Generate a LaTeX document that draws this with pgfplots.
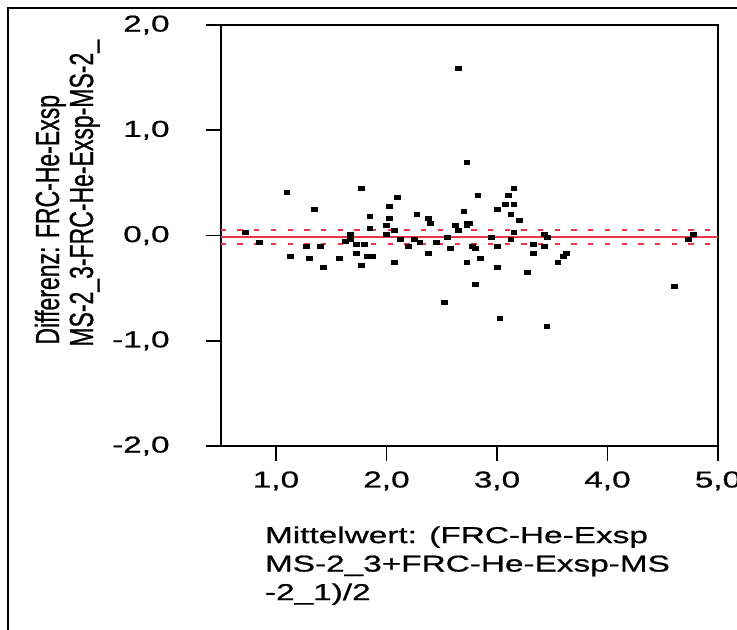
\documentclass[border=0pt]{standalone}
\usepackage{pgfplots}
\pgfplotsset{compat=1.18}
\usepackage{fontspec}
\setmainfont[FakeStretch=1.45,FakeBold=0.8]{Liberation Sans}
\newfontfamily\ylabfont[FakeBold=0.8]{Liberation Sans}
\definecolor{refred}{RGB}{235,52,75}

\begin{document}
\begin{tikzpicture}[x=1pt,y=1pt,font=\fontsize{11.5}{14.25}\selectfont]
\useasboundingbox (0,0) rectangle (368.5,314.5);
\clip (0,0) rectangle (368.5,314.5);
% outer chart frame, cut by the picture edge
\draw[line width=1pt] (4,-5) -- (4,310.5) -- (380,310.5);
\begin{axis}[
  at={(110.35pt,91.5pt)}, anchor=south west,
  scale only axis, width=248.65pt, height=210.5pt,
  xmin=0.5, xmax=5, ymin=-2, ymax=2,
  xtick={1,2,3,4,5}, xticklabels={1{,}0,2{,}0,3{,}0,4{,}0,5{,}0},
  ytick={-2,-1,0,1,2}, yticklabels={-2{,}0,-1{,}0,0{,}0,1{,}0,2{,}0},
  xtick pos=bottom, ytick pos=left, tick align=outside,
  major tick length=7.5pt,
  axis line style={line width=0.8pt},
  tick style={line width=0.8pt, black},
  xticklabel style={inner sep=0pt, anchor=north},
  yticklabel style={inner sep=0pt, anchor=east},
  xticklabel shift=5pt, yticklabel shift=17.85pt,
  xlabel={Mittelwert: (FRC-He-Exsp\\MS-2\_3+FRC-He-Exsp-MS\\-2\_1)/2},
  xlabel style={at={(axis description cs:0.0883,-0.19)}, anchor=north west, align=left, inner sep=0pt},
  clip=false,
]
\addplot[refred, line width=1pt] coordinates {(0.5,-0.012) (5,-0.012)};
\addplot[refred, line width=1pt, dash pattern=on 2.65pt off 5.7pt] coordinates {(0.5,0.055) (5,0.055)};
\addplot[refred, line width=1pt, dash pattern=on 2.65pt off 5.7pt] coordinates {(0.5,-0.08) (5,-0.08)};
\addplot[only marks, mark=square*, mark size=1pt, black,
  mark options={xscale=1.45, line width=0.3pt}] coordinates {
(1.099,0.406) (1.775,0.449) (1.350,0.250) (2.024,0.273) (1.850,0.183)
(2.024,0.162) (1.850,0.073) (2.001,0.095) (0.726,0.029) (2.001,0.007)
(2.071,0.050) (1.675,0.007) (1.675,-0.038) (1.626,-0.059) (0.849,-0.060)
(1.726,-0.083) (1.802,-0.083) (1.276,-0.105) (1.401,-0.105) (1.726,-0.171)
(1.825,-0.193) (1.874,-0.193) (1.127,-0.193) (1.301,-0.216) (1.576,-0.216)
(2.073,-0.259) (1.775,-0.282) (1.425,-0.304)
(2.099,0.361) (2.124,-0.038) (2.200,-0.105) (2.250,-0.038) (2.275,0.206)
(2.302,-0.060) (2.376,0.162) (2.399,0.117) (2.376,-0.171) (2.451,-0.060)
(2.525,-0.639) (2.551,-0.014) (2.576,-0.126) (2.626,0.095) (2.650,0.050)
(2.700,0.228) (2.727,0.117) (2.751,0.117) (2.727,0.095) (2.727,-0.259)
(2.727,0.696) (2.652,1.584)
(2.826,0.385) (2.775,-0.105) (2.801,-0.126) (2.851,-0.216) (2.801,-0.459)
(2.950,-0.014) (3.001,0.250) (3.001,-0.105) (3.001,-0.304) (3.025,-0.791)
(3.077,0.295) (3.100,0.385) (3.152,0.449) (3.152,0.295) (3.125,0.206)
(3.202,0.141) (3.152,0.029) (3.125,-0.038) (3.276,-0.349) (3.326,-0.083)
(3.326,-0.171) (3.426,0.007) (3.452,-0.016) (3.426,-0.105) (3.450,-0.858)
(3.550,-0.259) (3.601,-0.193) (3.628,-0.171)
(4.603,-0.482) (4.728,-0.040) (4.778,0.008)
};
\end{axis}
\node[font=\ylabfont\fontsize{11.5}{14.25}\selectfont, rotate=90, yscale=1.45, anchor=base west, inner sep=0pt] at (29.5,142) {Differenz: FRC-He-Exsp};
\node[font=\ylabfont\fontsize{11.5}{14.25}\selectfont, rotate=90, yscale=1.45, anchor=base west, inner sep=0pt] at (46.5,141) {MS-2\_3-FRC-He-Exsp-MS-2\_};
\end{tikzpicture}
\end{document}
